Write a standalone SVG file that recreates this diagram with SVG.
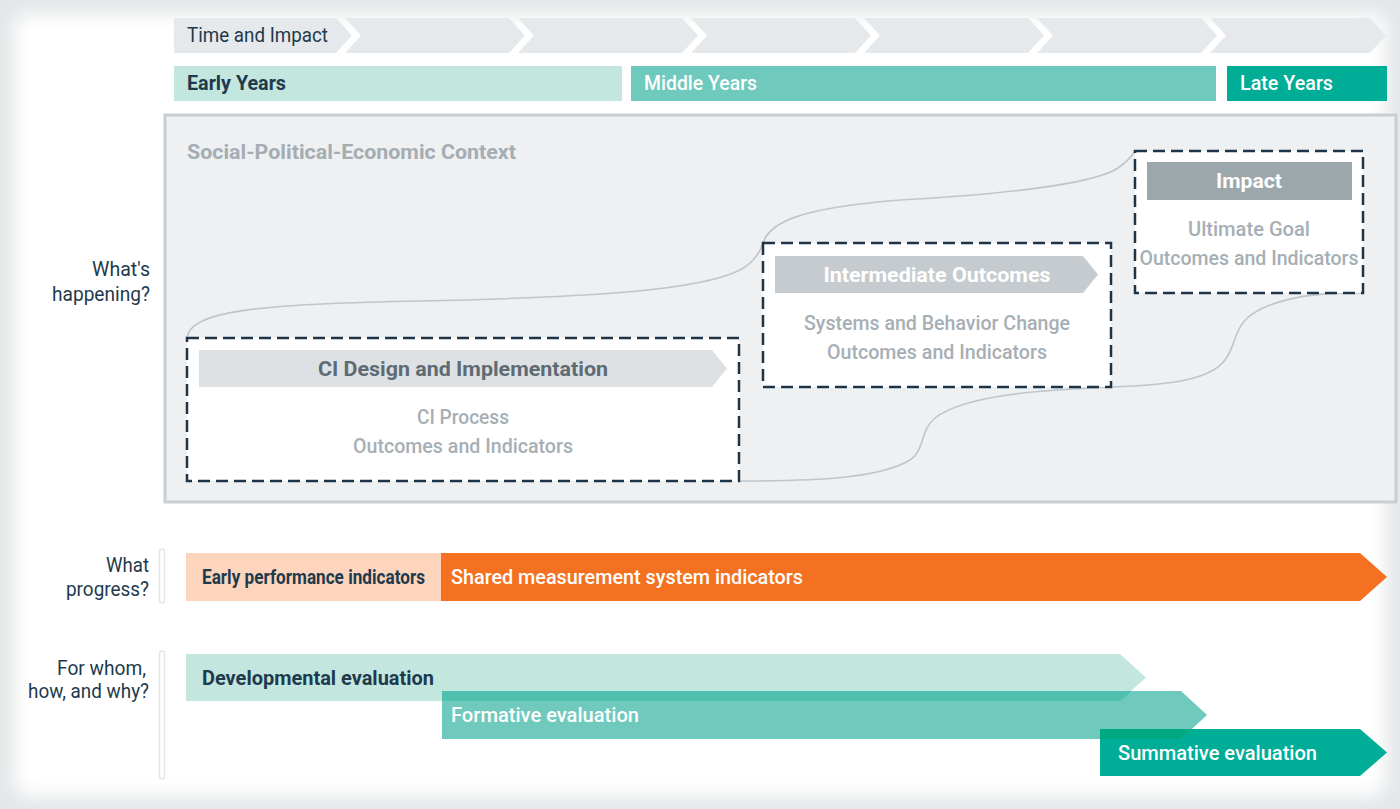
<svg xmlns="http://www.w3.org/2000/svg" width="1400" height="809" viewBox="0 0 1400 809">
<defs>
<filter id="soft" x="-5%" y="-5%" width="110%" height="110%"><feGaussianBlur stdDeviation="9"/></filter>
<style>
text{font-family:Roboto,"Liberation Sans",sans-serif;font-size:20px}
.dk{fill:#1e3a4c}
.wt{fill:#ffffff}
.gy{fill:#a6afb5}
.b{font-weight:700}
.m{font-weight:500}
.q{text-anchor:end;fill:#1e3a4c}
.c{text-anchor:middle}
.chev{fill:#e6e9ec}
.dash{fill:#ffffff;stroke:#1f3447;stroke-width:2.5;stroke-dasharray:12 6}
.curve{fill:none;stroke:#bfc6ca;stroke-width:1.6}
.vbar{fill:#ffffff;stroke:#e3e6e8;stroke-width:1.5}
</style>
</defs>
<rect x="0" y="0" width="1400" height="809" fill="#e4e7e9"/>
<rect x="14" y="14" width="1372" height="782" rx="16" fill="#ffffff" filter="url(#soft)"/>

<g id="timeline">
<polygon class="chev" points="174,18 336,18 352,35.5 336,53 174,53"/>
<polygon class="chev" points="345,18 509,18 525,35.5 509,53 345,53 361,35.5"/>
<polygon class="chev" points="518,18 682,18 698,35.5 682,53 518,53 534,35.5"/>
<polygon class="chev" points="691,18 855,18 871,35.5 855,53 691,53 707,35.5"/>
<polygon class="chev" points="864,18 1028,18 1044,35.5 1028,53 864,53 880,35.5"/>
<polygon class="chev" points="1037,18 1201,18 1217,35.5 1201,53 1037,53 1053,35.5"/>
<polygon class="chev" points="1210,18 1370,18 1386,35.5 1370,53 1210,53 1226,35.5"/>
<text class="dk" x="187" y="42" textLength="141" lengthAdjust="spacingAndGlyphs">Time and Impact</text>
</g>

<g id="early-years">
<rect x="174" y="66" width="448" height="35" fill="#c3e6df"/>
<text class="dk b" x="187" y="90" textLength="99" lengthAdjust="spacingAndGlyphs">Early Years</text>
</g>
<g id="middle-years">
<rect x="631" y="66" width="585" height="35" fill="#6fc9bc"/>
<text class="wt m" x="644" y="90" textLength="113" lengthAdjust="spacingAndGlyphs">Middle Years</text>
</g>
<g id="late-years">
<rect x="1227" y="66" width="160" height="35" fill="#00ad97"/>
<text class="wt m" x="1240" y="90" textLength="93" lengthAdjust="spacingAndGlyphs">Late Years</text>
</g>

<g id="context">
<rect x="165" y="115" width="1231" height="387" fill="#eef0f2" stroke="#c9ced1" stroke-width="3"/>
<text class="b" x="187" y="159" fill="#a4adb3" textLength="329" lengthAdjust="spacingAndGlyphs">Social-Political-Economic Context</text>
</g>

<g id="connectors">
<path class="curve" d="M187,338 C190,312 250,304 420,301 C600,297 700,290 740,270 C755,262 760,252 763,243"/>
<path class="curve" d="M763,243 C770,222 800,208 900,200 C1040,192 1100,180 1118,168 C1128,161 1132,156 1135,151"/>
<path class="curve" d="M739,481 C820,481 880,478 910,460 C925,450 920,430 935,418 C965,395 1040,390 1111,387"/>
<path class="curve" d="M1111,387 C1170,385 1210,380 1225,360 C1240,340 1230,320 1270,305 C1300,294 1330,293 1363,293"/>
</g>

<g id="ci-design">
<rect class="dash" x="187" y="338" width="552" height="143"/>
<polygon points="199,350 712,350 727,368.5 712,387 199,387" fill="#dde1e4"/>
<text class="c b" x="463" y="376" fill="#5e6b73" textLength="290" lengthAdjust="spacingAndGlyphs">CI Design and Implementation</text>
<text class="c gy m" x="463" y="424" textLength="92" lengthAdjust="spacingAndGlyphs">CI Process</text>
<text class="c gy m" x="463" y="453" textLength="220" lengthAdjust="spacingAndGlyphs">Outcomes and Indicators</text>
</g>

<g id="intermediate">
<rect class="dash" x="763" y="243" width="348" height="144"/>
<polygon points="775,256 1083,256 1098,274.5 1083,293 775,293" fill="#c5cbcf"/>
<text class="c wt b" x="937" y="282" textLength="227" lengthAdjust="spacingAndGlyphs">Intermediate Outcomes</text>
<text class="c gy m" x="937" y="330" textLength="266" lengthAdjust="spacingAndGlyphs">Systems and Behavior Change</text>
<text class="c gy m" x="937" y="359" textLength="220" lengthAdjust="spacingAndGlyphs">Outcomes and Indicators</text>
</g>

<g id="impact">
<rect class="dash" x="1135" y="151" width="228" height="142"/>
<rect x="1147" y="162" width="205" height="38" fill="#9ca7ac"/>
<text class="c wt b" x="1249" y="188" textLength="66" lengthAdjust="spacingAndGlyphs">Impact</text>
<text class="c gy m" x="1249" y="236" textLength="122" lengthAdjust="spacingAndGlyphs">Ultimate Goal</text>
<text class="c gy m" x="1249" y="265" textLength="219" lengthAdjust="spacingAndGlyphs">Outcomes and Indicators</text>
</g>

<g id="labels">
<text class="q" x="150" y="276" textLength="58" lengthAdjust="spacingAndGlyphs">What's</text>
<text class="q" x="150" y="301" textLength="98" lengthAdjust="spacingAndGlyphs">happening?</text>
<text class="q" x="149" y="572" textLength="43" lengthAdjust="spacingAndGlyphs">What</text>
<text class="q" x="149" y="596" textLength="83" lengthAdjust="spacingAndGlyphs">progress?</text>
<text class="q" x="146" y="675" textLength="89" lengthAdjust="spacingAndGlyphs">For whom,</text>
<text class="q" x="149" y="698" textLength="121" lengthAdjust="spacingAndGlyphs">how, and why?</text>
<rect class="vbar" x="159.5" y="549" width="5" height="54" rx="2.5"/>
<rect class="vbar" x="159.5" y="651" width="5" height="128" rx="2.5"/>
</g>

<g id="early-performance">
<rect x="186" y="553" width="255" height="48" fill="#fdd5bc"/>
<text class="dk b" x="202" y="584" textLength="223" lengthAdjust="spacingAndGlyphs">Early performance indicators</text>
</g>
<g id="shared-measurement">
<polygon points="441,553 1360,553 1387,577 1360,601 441,601" fill="#f37121"/>
<text class="wt m" x="451" y="584" textLength="352" lengthAdjust="spacingAndGlyphs">Shared measurement system indicators</text>
</g>

<g id="developmental">
<polygon points="186,654 1120,654 1146,677.5 1120,701 186,701" fill="#c3e6df"/>
<text class="dk b" x="202" y="685" textLength="232" lengthAdjust="spacingAndGlyphs">Developmental evaluation</text>
</g>
<g id="summative">
<polygon points="1100,729 1360,729 1387,752.5 1360,776 1100,776" fill="#00ad97"/>
<text class="wt m" x="1118" y="760" textLength="199" lengthAdjust="spacingAndGlyphs">Summative evaluation</text>
</g>
<g id="formative">
<polygon points="442,691 1181,691 1207,715 1181,739 442,739" fill="#6fc9bc"/>
<polygon points="442,691 1132,691 1120,701 442,701" fill="#4fbfae"/>
<polygon points="1100,729 1192,729 1181,739 1100,739" fill="#00a882"/>
<text class="wt m" x="451" y="722" textLength="188" lengthAdjust="spacingAndGlyphs">Formative evaluation</text>
</g>
</svg>
